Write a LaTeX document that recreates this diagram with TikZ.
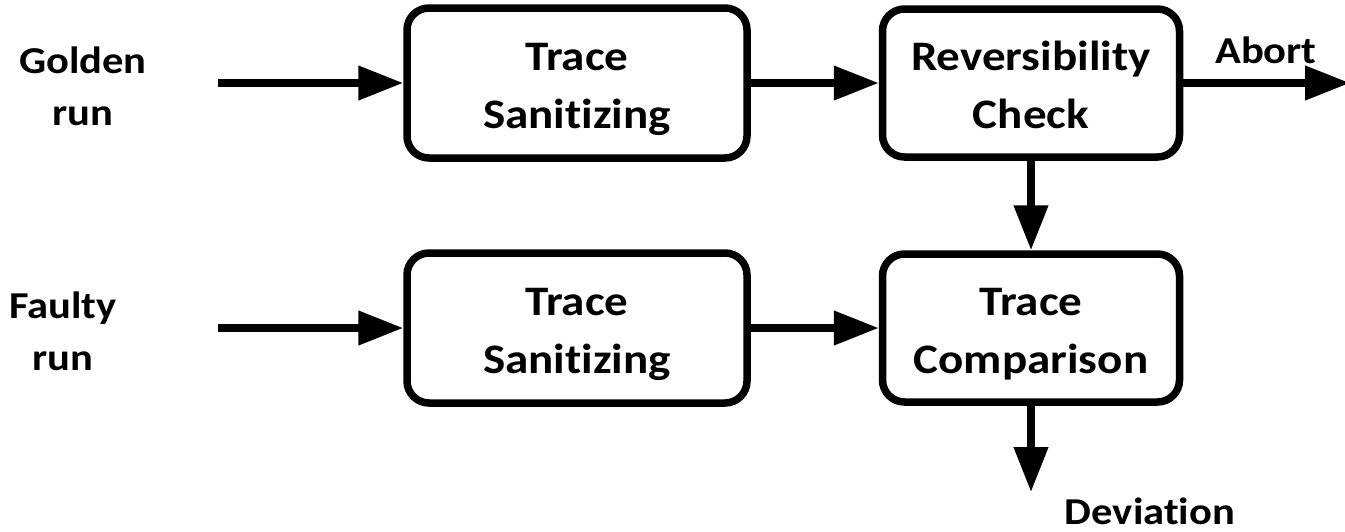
\documentclass[tikz,border=0pt]{standalone}
\usepackage{fontspec}
\setmainfont{Carlito}[FakeStretch=1.12, Ligatures=NoCommon]
\usetikzlibrary{arrows.meta}
\begin{document}
\begin{tikzpicture}[x=1pt,y=-1pt,
  proc/.style={draw, line width=7.5pt, rounded corners=22pt, align=center, inner sep=0pt,
    font=\fontsize{42}{58}\selectfont\bfseries},
  widebox/.style={minimum width=340pt, minimum height=150pt},
  narrowbox/.style={minimum width=297pt, minimum height=148pt},
  lbl/.style={align=center, inner sep=0pt, font=\fontsize{38}{52}\selectfont\bfseries},
  flow/.style={line width=7.5pt, -{Triangle[length=45pt,width=33pt]}}
]
\useasboundingbox (0,0) rectangle (1345,531);

\node[proc,widebox] (ts1) at (577,83) {\rule{0pt}{42pt}Trace\\Sanitizing\rule[-10pt]{0pt}{10pt}};
\node[proc,narrowbox] (rc) at (1031,83) {\rule{0pt}{42pt}Reversibility\\Check\rule[-10pt]{0pt}{10pt}};
\node[proc,widebox] (ts2) at (577,328) {\rule{0pt}{42pt}Trace\\Sanitizing\rule[-10pt]{0pt}{10pt}};
\node[proc,narrowbox] (tc) at (1031,328) {\rule{0pt}{42pt}Trace\\Comparison\rule[-10pt]{0pt}{10pt}};

\node[lbl] (golden) at (83,83) {\rule{0pt}{42pt}Golden\\run\rule[-10pt]{0pt}{10pt}};
\node[lbl] (faulty) at (63,328) {\rule{0pt}{42pt}Faulty\\run\rule[-10pt]{0pt}{10pt}};
\node[lbl, anchor=base] (abort) at (1266,63) {Abort};
\node[lbl, anchor=base] (dev) at (1150,524) {Deviation};

\coordinate (gin) at (218,83);
\coordinate (fin) at (218,328);
\coordinate (abortend) at (1350,83);
\coordinate (devend) at (1031,492);

\draw[flow] (gin) -- (ts1);
\draw[flow] (ts1) -- (rc);
\draw[flow] (rc) -- (abortend);
\draw[flow] (rc) -- (tc);
\draw[flow] (fin) -- (ts2);
\draw[flow] (ts2) -- (tc);
\draw[flow] (tc) -- (devend);
\end{tikzpicture}
\end{document}
